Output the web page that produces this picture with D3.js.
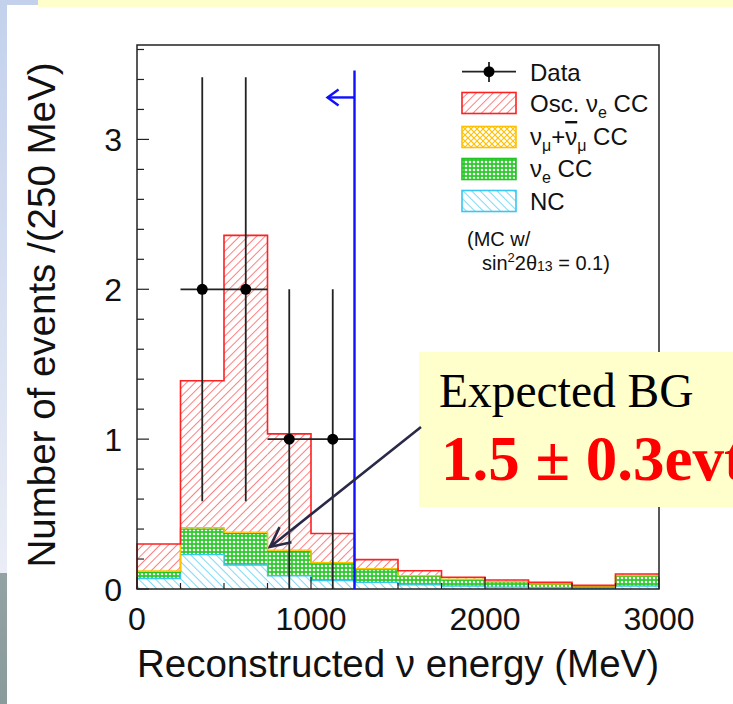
<!DOCTYPE html>
<html>
<head>
<meta charset="utf-8">
<script src="https://cdn.jsdelivr.net/npm/d3@7/dist/d3.min.js"></script>
<style>
  html, body { margin: 0; padding: 0; background: #fff; }
  svg { display: block; }
</style>
</head>
<body>
<svg id="chart" width="733" height="704"></svg>
<script>
// ---------------- data ----------------
const binEdges = [0, 250, 500, 750, 1000, 1250, 1500, 1750, 2000, 2250, 2500, 2750, 3000];
// per-layer (non-cumulative) expected events per 250 MeV bin, stacked bottom -> top
const ncValues    = [0.07, 0.23, 0.16, 0.087, 0.056, 0.044, 0.027, 0.020, 0.013, 0.008, 0.004, 0.020];
const nueCCValues = [0.04, 0.17, 0.21, 0.163, 0.114, 0.086, 0.058, 0.042, 0.034, 0.025, 0.014, 0.068];
const numuCCValues= [0.01, 0.01, 0.01, 0.010, 0.005, 0.005, 0.004, 0.003, 0.002, 0.002, 0.001, 0.002];
const oscNueValues= [0.18, 0.98, 1.98, 0.775, 0.195, 0.061, 0.033, 0.013, 0.011, 0.009, 0.005, 0.010];
// observed data
const dataX = [375, 625, 875, 1125];
const dataY = [2, 2, 1, 1];
const dataXErr = [125, 125, 125, 125];
const dataYErr = [1.414, 1.414, 1, 1];
// cut
const cutEnergy = 1250;
const cutLineTop = 3.46;
const cutArrowY = 3.28;
const cutArrowTip = 1095;
// axes
const xDomain = [0, 3000];
const yDomain = [0, 3.63];
const xMajorTicks = [0, 1000, 2000, 3000];
const yMajorTicks = [0, 1, 2, 3];
const xTitle = "Reconstructed \u03bd energy (MeV)";
const yTitle = "Number of events /(250 MeV)";

// ---------------- layout ----------------
const svg = d3.select("#chart");
const L = 137, R = 659, T = 45, B = 589;
const x = d3.scaleLinear().domain(xDomain).range([L, R]);
const y = d3.scaleLinear().domain(yDomain).range([B, T]);
const SANS = "'Liberation Sans', Arial, Helvetica, sans-serif";
const SERIF = "'Liberation Serif', 'Times New Roman', serif";

// ---------------- slide background decoration ----------------
const defs = svg.append("defs");
const g1 = defs.append("linearGradient").attr("id", "strip").attr("x1", 0).attr("y1", 0).attr("x2", 0).attr("y2", 1);
g1.append("stop").attr("offset", "0%").attr("stop-color", "#c3d1ec");
g1.append("stop").attr("offset", "100%").attr("stop-color", "#eaedf6");
const g2 = defs.append("linearGradient").attr("id", "strip2").attr("x1", 0).attr("y1", 0).attr("x2", 0).attr("y2", 1);
g2.append("stop").attr("offset", "0%").attr("stop-color", "#93a3a4");
g2.append("stop").attr("offset", "100%").attr("stop-color", "#8a9b9c");
svg.append("rect").attr("x", 0).attr("y", 0).attr("width", 733).attr("height", 704).attr("fill", "#fff");
svg.append("rect").attr("x", 0).attr("y", 0).attr("width", 7).attr("height", 573).attr("fill", "url(#strip)");
svg.append("rect").attr("x", 0).attr("y", 573).attr("width", 7).attr("height", 131).attr("fill", "url(#strip2)");
svg.append("rect").attr("x", 0).attr("y", 0).attr("width", 38).attr("height", 5).attr("fill", "#c3d1ec");
svg.append("rect").attr("x", 38).attr("y", 0).attr("width", 695).attr("height", 7).attr("fill", "#ffffcc");

// ---------------- patterns ----------------
function hatch(id, color, angle, gap) {
  const p = defs.append("pattern").attr("id", id).attr("patternUnits", "userSpaceOnUse")
    .attr("width", gap).attr("height", gap).attr("patternTransform", `rotate(${angle})`);
  p.append("rect").attr("width", gap).attr("height", gap).attr("fill", "#fff");
  p.append("line").attr("x1", 0).attr("y1", 0).attr("x2", 0).attr("y2", gap)
    .attr("stroke", color).attr("stroke-width", 1.3);
}
hatch("pOsc", "#ff3a3a", 45, 6);
hatch("pNC", "#38c6f2", -45, 6);
(function () {
  const p = defs.append("pattern").attr("id", "pNumu").attr("patternUnits", "userSpaceOnUse")
    .attr("width", 6).attr("height", 6);
  p.append("rect").attr("width", 6).attr("height", 6).attr("fill", "#fff");
  p.append("path").attr("d", "M0,0L6,6M6,0L0,6").attr("stroke", "#ffc000").attr("stroke-width", 1.1);
  const q = defs.append("pattern").attr("id", "pNue").attr("patternUnits", "userSpaceOnUse")
    .attr("width", 4).attr("height", 4);
  q.append("rect").attr("width", 4).attr("height", 4).attr("fill", "#2ecb2e");
  q.append("circle").attr("cx", 2).attr("cy", 2).attr("r", 1.3).attr("fill", "#fff");
})();

// ---------------- stacked histogram ----------------
const layers = [
  { name: "NC", values: ncValues, fill: "url(#pNC)", stroke: "#38c6f2" },
  { name: "nueCC", values: nueCCValues, fill: "url(#pNue)", stroke: "#22c422" },
  { name: "numuCC", values: numuCCValues, fill: "url(#pNumu)", stroke: "#ffc000" },
  { name: "osc", values: oscNueValues, fill: "url(#pOsc)", stroke: "#ff2020" }
];
let cum = ncValues.map(() => 0);
layers.forEach(l => {
  l.lo = cum.slice();
  l.hi = cum.map((c, i) => c + l.values[i]);
  cum = l.hi;
});
const hist = svg.append("g");
layers.forEach(l => {
  hist.selectAll(null).data(l.values).enter().append("rect")
    .attr("x", (d, i) => x(binEdges[i]))
    .attr("width", (d, i) => x(binEdges[i + 1]) - x(binEdges[i]))
    .attr("y", (d, i) => y(l.hi[i]))
    .attr("height", (d, i) => y(l.lo[i]) - y(l.hi[i]))
    .attr("fill", l.fill);
});
const stepLine = d3.line().x(d => x(d[0])).y(d => y(d[1])).curve(d3.curveStepAfter);
layers.forEach(l => {
  const pts = l.hi.map((v, i) => [binEdges[i], v]);
  pts.push([binEdges[binEdges.length - 1], l.hi[l.hi.length - 1]]);
  pts.unshift([binEdges[0], 0]);
  hist.append("path").attr("d", stepLine(pts)).attr("fill", "none")
    .attr("stroke", l.stroke).attr("stroke-width", l.name === "osc" ? 1.6 : 1.3);
});

// ---------------- axes ----------------
const ax = svg.append("g");
const xMinor = d3.range(xDomain[0], xDomain[1] + 1, 250);
const yMinor = d3.range(0, 3.61, 0.2);
ax.selectAll(null).data(xMinor).enter().append("line")
  .attr("x1", d => x(d)).attr("x2", d => x(d)).attr("y1", B)
  .attr("y2", d => B - (xMajorTicks.includes(d) ? 12 : 6))
  .attr("stroke", "#222").attr("stroke-width", 1.2);
ax.selectAll(null).data(yMinor).enter().append("line")
  .attr("y1", d => y(d)).attr("y2", d => y(d)).attr("x1", L)
  .attr("x2", d => L + (Math.abs(d - Math.round(d)) < 1e-6 ? 12 : 7))
  .attr("stroke", "#222").attr("stroke-width", 1.2);
ax.append("rect").attr("x", L).attr("y", T).attr("width", R - L).attr("height", B - T)
  .attr("fill", "none").attr("stroke", "#222").attr("stroke-width", 1.5);

ax.selectAll(null).data(xMajorTicks).enter().append("text")
  .attr("x", d => x(d)).attr("y", 630).attr("text-anchor", "middle")
  .attr("font-family", SANS).attr("font-size", 32).attr("fill", "#111").text(d => d);
ax.selectAll(null).data(yMajorTicks).enter().append("text")
  .attr("x", 122).attr("y", d => y(d) + 11.5).attr("text-anchor", "end")
  .attr("font-family", SANS).attr("font-size", 32).attr("fill", "#111").text(d => d);
ax.append("text").attr("x", (L + R) / 2).attr("y", 677).attr("text-anchor", "middle")
  .attr("font-family", SANS).attr("font-size", 38.5).attr("fill", "#111").text(xTitle);
ax.append("text").attr("transform", `translate(55,315) rotate(-90)`).attr("text-anchor", "middle")
  .attr("font-family", SANS).attr("font-size", 38.5).attr("fill", "#111").text(yTitle);

// ---------------- data points ----------------
const dg = svg.append("g").attr("stroke", "#222").attr("stroke-width", 1.8);
dataX.forEach((dx, i) => {
  dg.append("line").attr("x1", x(dx - dataXErr[i])).attr("x2", x(dx + dataXErr[i]))
    .attr("y1", y(dataY[i])).attr("y2", y(dataY[i]));
  dg.append("line").attr("x1", x(dx)).attr("x2", x(dx))
    .attr("y1", y(dataY[i] - dataYErr[i])).attr("y2", y(dataY[i] + dataYErr[i]));
});
svg.selectAll(null).data(dataX).enter().append("circle")
  .attr("cx", d => x(d)).attr("cy", (d, i) => y(dataY[i])).attr("r", 5.5).attr("fill", "#000");

// ---------------- cut line ----------------
const cg = svg.append("g").attr("stroke", "#1010ff").attr("fill", "none").attr("stroke-width", 2.4);
cg.append("line").attr("x1", x(cutEnergy)).attr("x2", x(cutEnergy)).attr("y1", y(0)).attr("y2", y(cutLineTop));
cg.append("line").attr("x1", x(cutEnergy)).attr("x2", x(cutArrowTip)).attr("y1", y(cutArrowY)).attr("y2", y(cutArrowY));
cg.append("path").attr("d", `M${x(cutArrowTip) + 11},${y(cutArrowY) - 8}L${x(cutArrowTip)},${y(cutArrowY)}L${x(cutArrowTip) + 11},${y(cutArrowY) + 8}`);

// ---------------- legend ----------------
const lg = svg.append("g").attr("font-family", SANS).attr("fill", "#111");
const lx = 462, lw = 54, tx = 530;
lg.append("line").attr("x1", lx).attr("x2", lx + lw).attr("y1", 71.7).attr("y2", 71.7).attr("stroke", "#222").attr("stroke-width", 1.8);
lg.append("line").attr("x1", lx + lw / 2).attr("x2", lx + lw / 2).attr("y1", 62).attr("y2", 82).attr("stroke", "#222").attr("stroke-width", 1.8);
lg.append("circle").attr("cx", lx + lw / 2).attr("cy", 71.7).attr("r", 5.5).attr("fill", "#000");
lg.append("text").attr("x", tx).attr("y", 80.5).attr("font-size", 24).text("Data");
const legendRows = [
  { fill: "url(#pOsc)", stroke: "#ff2020", y0: 92.5 },
  { fill: "url(#pNumu)", stroke: "#ffc000", y0: 126.5 },
  { fill: "url(#pNue)", stroke: "#22c422", y0: 158.5 },
  { fill: "url(#pNC)", stroke: "#38c6f2", y0: 190.5 }
];
lg.selectAll(null).data(legendRows).enter().append("rect")
  .attr("x", lx).attr("y", d => d.y0).attr("width", lw).attr("height", 21)
  .attr("fill", d => d.fill).attr("stroke", d => d.stroke).attr("stroke-width", 1.6);
let t1 = lg.append("text").attr("x", tx).attr("y", 112).attr("font-size", 24);
t1.append("tspan").text("Osc. \u03bd");
t1.append("tspan").attr("font-size", 16).attr("dy", 6).text("e");
t1.append("tspan").attr("dy", -6).text(" CC");
let t2 = lg.append("text").attr("x", tx).attr("y", 145).attr("font-size", 24);
t2.append("tspan").text("\u03bd");
t2.append("tspan").attr("font-size", 16).attr("dy", 6).text("\u03bc");
t2.append("tspan").attr("dy", -6).text("+");
t2.append("tspan").attr("text-decoration", "overline").text("\u03bd");
t2.append("tspan").attr("font-size", 16).attr("dy", 6).text("\u03bc");
t2.append("tspan").attr("dy", -6).text(" CC");
let t3 = lg.append("text").attr("x", tx).attr("y", 177).attr("font-size", 24);
t3.append("tspan").text("\u03bd");
t3.append("tspan").attr("font-size", 16).attr("dy", 6).text("e");
t3.append("tspan").attr("dy", -6).text(" CC");
lg.append("text").attr("x", tx).attr("y", 210).attr("font-size", 24).text("NC");
lg.append("text").attr("x", 467).attr("y", 246).attr("font-size", 20).text("(MC w/");
let t4 = lg.append("text").attr("x", 482).attr("y", 270).attr("font-size", 20);
t4.append("tspan").text("sin");
t4.append("tspan").attr("font-size", 13).attr("dy", -8).text("2");
t4.append("tspan").attr("dy", 8).text("2\u03b8");
t4.append("tspan").attr("font-size", 14).attr("dy", 1).text("13");
t4.append("tspan").attr("dy", -1).text(" = 0.1)");

// ---------------- annotation ----------------
svg.append("rect").attr("x", 419).attr("y", 352).attr("width", 320).attr("height", 155).attr("fill", "#ffffcc");
svg.append("text").attr("x", 439).attr("y", 407).attr("font-family", SERIF).attr("font-size", 47.5)
  .attr("fill", "#000").text("Expected BG");
svg.append("text").attr("x", 441).attr("y", 480).attr("font-family", SERIF).attr("font-size", 63)
  .attr("font-weight", "bold").attr("fill", "#ff0000").text("1.5 \u00b1 0.3evt");
const tip = [270, 547], tail = [421, 427];
const ang = Math.atan2(tail[1] - tip[1], tail[0] - tip[0]);
const ah = 22, spread = 0.45;
svg.append("path")
  .attr("d", `M${tail[0]},${tail[1]}L${tip[0]},${tip[1]}` +
    `M${tip[0] + ah * Math.cos(ang - spread)},${tip[1] + ah * Math.sin(ang - spread)}L${tip[0]},${tip[1]}` +
    `L${tip[0] + ah * Math.cos(ang + spread)},${tip[1] + ah * Math.sin(ang + spread)}`)
  .attr("fill", "none").attr("stroke", "#2a2a48").attr("stroke-width", 2.6);
</script>
</body>
</html>
